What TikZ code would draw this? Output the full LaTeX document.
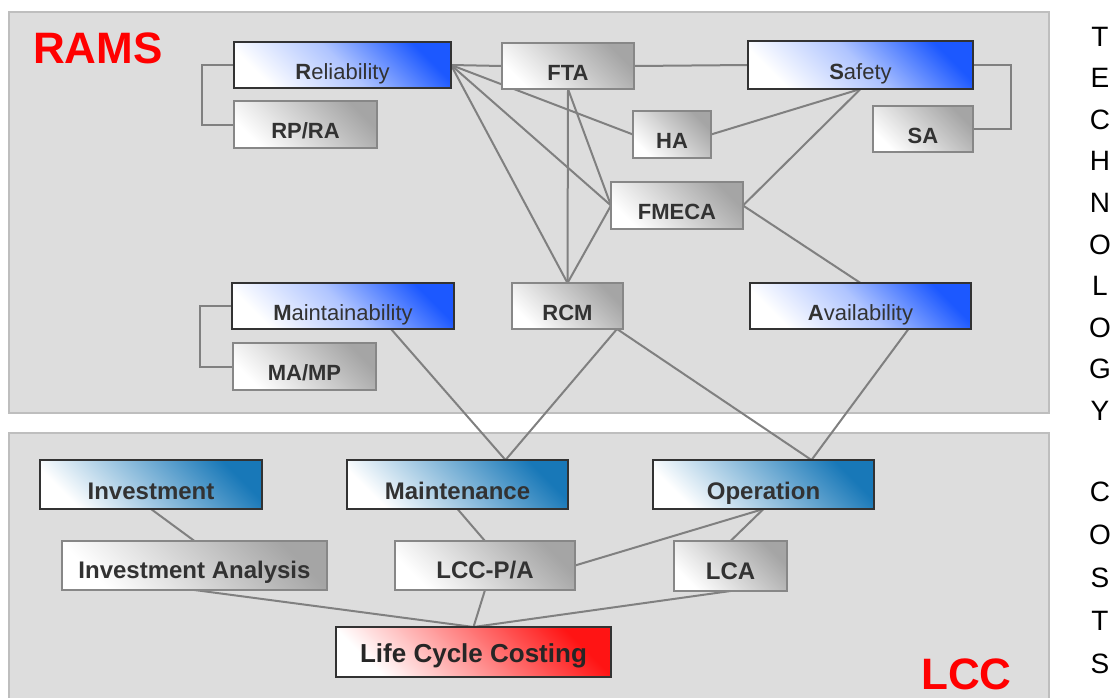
\documentclass[tikz,border=0pt]{standalone}
\usepackage{fontspec}
\setmainfont{Liberation Sans}
\usetikzlibrary{backgrounds}

\definecolor{ramsblue}{RGB}{28,88,255}
\definecolor{lccblue}{RGB}{24,120,184}
\definecolor{boxgray}{RGB}{165,165,165}
\definecolor{costred}{RGB}{255,20,20}
\definecolor{panelgray}{RGB}{221,221,221}
\definecolor{paneledge}{RGB}{190,190,190}
\definecolor{edgedark}{RGB}{50,50,50}
\definecolor{edgegray}{RGB}{135,135,135}
\definecolor{linegray}{RGB}{128,128,128}
\definecolor{txtgray}{RGB}{50,50,50}

\begin{document}
\begin{tikzpicture}[x=1pt,y=-1pt,
		box/.style={anchor=north west,inner sep=0pt,outer sep=0pt,line width=2pt,text depth=0pt,text=txtgray,font=\fontsize{22}{26}\selectfont},
		ramsbox/.style={box,draw=edgedark,top color=ramsblue,bottom color=white,middle color=ramsblue!35!white,shading angle=-45,text height=28pt},
		graybox/.style={box,draw=edgegray,top color=boxgray,bottom color=white,shading angle=-45,text height=28pt,font=\fontsize{22}{26}\selectfont\bfseries},
		lccbox/.style={box,draw=edgedark,top color=lccblue,bottom color=white,shading angle=-45,text height=29pt,font=\fontsize{24}{28}\selectfont\bfseries},
		costbox/.style={box,draw=edgedark,top color=costred,bottom color=white,shading angle=-45,text height=20pt,text=black!85,font=\fontsize{26}{30}\selectfont\bfseries},
		link/.style={draw=linegray,line width=2pt},
		panel/.style={fill=panelgray,draw=paneledge,line width=2pt},
		sidelbl/.style={inner sep=0pt,text height=20pt,text depth=0pt,font=\fontsize{28}{30}\selectfont},
		bigred/.style={anchor=base west,inner sep=0pt,text=red,font=\fontsize{44}{46}\selectfont\bfseries}]
	\useasboundingbox (0,0) rectangle (1114,697);
	% RAMS part
	\node[ramsbox,minimum width=217pt,minimum height=46pt] (rel) at (234,42) {\textbf{R}eliability};
	\node[graybox,minimum width=143pt,minimum height=47pt] (rpra) at (234,101) {RP/RA};
	\node[graybox,minimum width=132pt,minimum height=46pt] (fta) at (502,43) {FTA};
	\node[ramsbox,minimum width=225pt,minimum height=48pt] (saf) at (748,41) {\textbf{S}afety};
	\node[graybox,minimum width=78pt,minimum height=47pt] (ha) at (633,111) {HA};
	\node[graybox,minimum width=100pt,minimum height=46pt] (sa) at (873,106) {SA};
	\node[graybox,minimum width=132pt,minimum height=47pt] (fmeca) at (611,182) {FMECA};
	\node[ramsbox,minimum width=222pt,minimum height=46pt] (mnt) at (232,283) {\textbf{M}aintainability};
	\node[graybox,minimum width=143pt,minimum height=47pt] (mamp) at (233,343) {MA/MP};
	\node[graybox,minimum width=111pt,minimum height=46pt] (rcm) at (512,283) {RCM};
	\node[ramsbox,minimum width=221pt,minimum height=46pt] (avl) at (750,283) {\textbf{A}vailability};
	% LCC part
	\node[lccbox,minimum width=222pt,minimum height=49pt] (inv) at (40,460) {Investment};
	\node[lccbox,minimum width=221pt,minimum height=49pt] (mtc) at (347,460) {Maintenance};
	\node[lccbox,minimum width=221pt,minimum height=49pt] (opr) at (653,460) {Operation};
	\node[graybox,minimum width=265pt,minimum height=49pt,text height=25pt,font=\fontsize{24}{28}\selectfont\bfseries] (ia) at (62,541) {Investment Analysis};
	\node[graybox,minimum width=180pt,minimum height=49pt,text height=25pt,font=\fontsize{24}{28}\selectfont\bfseries] (lccpa) at (395,541) {LCC-P/A};
	\node[graybox,minimum width=113pt,minimum height=50pt,text height=26pt,font=\fontsize{24}{28}\selectfont\bfseries] (lca) at (674,541) {LCA};
	\node[costbox,minimum width=275pt,minimum height=50pt] (lcc) at (336,627) {Life Cycle Costing};
	% labels
	\node[bigred] (ramslbl) at (33,63) {RAMS};
	\node[bigred] (lcclbl) at (921,689) {LCC};
	\foreach \ch [count=\i from 0] in {T,E,C,H,N,O,L,O,G,Y}
		\node[sidelbl] (tech\i) at (1100,{36+41.6*\i}) {\ch};
	\foreach \ch [count=\i from 0] in {C,O,S,T,S}
		\node[sidelbl] (cost\i) at (1100,{491+43*\i}) {\ch};
	\begin{scope}[on background layer]
		\draw[panel] (9,12) rectangle (1049,413);
		\draw[panel] (9,433) rectangle (1049,700);
		\draw[link] (rel.west) -- ++(-32,0) |- (rpra.west);
		\draw[link] (saf.east) -- ++(38,0) |- (sa.east);
		\draw[link] (mnt.west) -- ++(-32,0) |- (mamp.west);
		\draw[link] (rel.east) -- (fta.west);
		\draw[link] (fta.east) -- (saf.west);
		\draw[link] (rel.east) -- (ha.west);
		\draw[link] (rel.east) -- (fmeca.west);
		\draw[link] (rel.east) -- (rcm.north);
		\draw[link] (fta.south) -- (rcm.north);
		\draw[link] (fta.south) -- (fmeca.west);
		\draw[link] (fmeca.west) -- (rcm.north);
		\draw[link] (saf.south) -- (ha.east);
		\draw[link] (saf.south) -- (fmeca.east);
		\draw[link] (fmeca.east) -- (avl.north);
		\draw[link] ([xshift=48pt]mnt.south) -- ([xshift=48pt]mtc.north);
		\draw[link] ([xshift=-6pt]rcm.south east) -- ([xshift=48pt]mtc.north);
		\draw[link] ([xshift=-6pt]rcm.south east) -- ([xshift=48pt]opr.north);
		\draw[link] ([xshift=48pt]avl.south) -- ([xshift=48pt]opr.north);
		\draw[link] (inv.south) -- (ia.north);
		\draw[link] (mtc.south) -- (lccpa.north);
		\draw[link] (opr.south) -- (lccpa.east);
		\draw[link] (opr.south) -- (lca.north);
		\draw[link] (ia.south) -- (lcc.north);
		\draw[link] (lccpa.south) -- (lcc.north);
		\draw[link] (lca.south) -- (lcc.north);
	\end{scope}
\end{tikzpicture}
\end{document}
